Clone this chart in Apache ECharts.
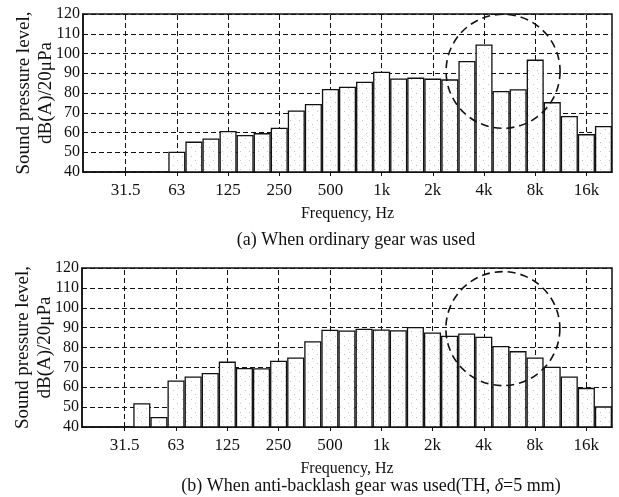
<!DOCTYPE html>
<html>
<head>
<meta charset="utf-8">
<script src="https://cdn.jsdelivr.net/npm/echarts@6/dist/echarts.min.js"></script>
<style>
  html, body { margin: 0; padding: 0; background: #fff; }
  #chart { width: 619px; height: 497px; }
</style>
</head>
<body>
<div id="chart"></div>
<script>
// One-third-octave band centre frequencies (Hz)
const bands = ['20', '25', '31.5', '40', '50', '63', '80', '100', '125', '160', '200', '250',
  '315', '400', '500', '630', '800', '1k', '1.25k', '1.6k', '2k', '2.5k', '3.15k', '4k',
  '5k', '6.3k', '8k', '10k', '12.5k', '16k', '20k'];

// Octave bands that carry a tick, a label and a vertical grid line
const octaveTicks = ['31.5', '63', '125', '250', '500', '1k', '2k', '4k', '8k', '16k'];

// Sound pressure level per band, dB(A) re 20 μPa
const splOrdinary = [null, null, null, null, null, 50.3, 55.4, 57.0, 60.8, 58.7, 59.7, 62.4,
  71.2, 74.4, 82.0, 83.2, 85.7, 90.8, 87.4, 87.8, 87.3, 86.9, 96.2, 104.6,
  81.0, 81.9, 96.9, 75.4, 68.4, 59.2, 63.3];
const splAntiBacklash = [null, null, null, 52.0, 45.0, 63.4, 65.4, 67.2, 72.9, 69.7, 69.6, 73.3,
  75.0, 83.2, 88.9, 88.6, 89.4, 89.1, 88.7, 90.3, 87.6, 85.9, 87.1, 85.4,
  80.8, 78.2, 75.0, 70.3, 65.4, 59.7, 50.4];

// Level axis ticks
const levelTicks = [40, 50, 60, 70, 80, 90, 100, 110, 120];

// Centres of the dashed rings marking the high-frequency region (band, level)
const focusOrdinary = ['5k', 91];
const focusAntiBacklash = ['5k', 89.5];

const serif = '"Liberation Serif", "DejaVu Serif", serif';
const ink = '#111';

// Sparse stipple used to fill the bars
function stipple() {
  const c = document.createElement('canvas');
  c.width = 9; c.height = 9;
  const g = c.getContext('2d');
  g.fillStyle = '#fff';
  g.fillRect(0, 0, 9, 9);
  g.fillStyle = '#c4c4c4';
  g.fillRect(2, 3, 1, 1);
  g.fillRect(6, 7, 1, 1);
  g.fillStyle = '#e2e2e2';
  g.fillRect(7, 1, 1, 1);
  return { image: c, repeat: 'repeat' };
}
const barFill = stipple();

const isOctave = (i, v) => octaveTicks.indexOf(v) !== -1;
const dash = [5, 3];

function freqAxis(gridIndex) {
  return {
    type: 'category',
    gridIndex,
    data: bands,
    boundaryGap: true,
    name: 'Frequency, Hz',
    nameLocation: 'middle',
    nameGap: 34,
    nameMoveOverlap: false,
    nameTextStyle: { fontFamily: serif, fontSize: 16, color: ink },
    axisLine: { show: true, lineStyle: { color: ink, width: 1.5 } },
    axisTick: { show: true, alignWithLabel: true, inside: false, length: 4,
      interval: isOctave, lineStyle: { color: ink, width: 1 } },
    axisLabel: { interval: isOctave, margin: 10, fontFamily: serif, fontSize: 17, color: ink },
    splitLine: { show: false }
  };
}

function levelAxis(gridIndex) {
  return {
    type: 'value',
    gridIndex,
    min: levelTicks[0],
    max: levelTicks[levelTicks.length - 1],
    interval: levelTicks[1] - levelTicks[0],
    name: 'Sound pressure level,\ndB(A)/20μPa',
    nameLocation: 'middle',
    nameRotate: 90,
    nameGap: 26,
    nameMoveOverlap: false,
    nameTextStyle: { fontFamily: serif, fontSize: 19, lineHeight: 22, color: ink },
    axisLine: { show: true, lineStyle: { color: ink, width: 1.5 } },
    axisTick: { show: false },
    axisLabel: { margin: 3, fontFamily: serif, fontSize: 16, color: ink },
    splitLine: { show: true, lineStyle: { color: ink, width: 1, type: dash } }
  };
}

function barSeries(idx, values) {
  return {
    type: 'bar',
    xAxisIndex: idx,
    yAxisIndex: idx,
    data: values,
    barCategoryGap: '0%',
    z: 2,
    silent: true,
    itemStyle: { color: barFill, borderColor: ink, borderWidth: 1.3 },
    markLine: {
      silent: true,
      symbol: 'none',
      z: 1,
      label: { show: false },
      lineStyle: { color: ink, width: 1, type: dash },
      data: octaveTicks.map(v => ({ xAxis: v }))
    }
  };
}

function ringSeries(idx, centre) {
  return {
    type: 'scatter',
    xAxisIndex: idx,
    yAxisIndex: idx,
    data: [centre],
    symbol: 'circle',
    symbolSize: 114,
    symbolOffset: [2, 0],
    z: 6,
    silent: true,
    itemStyle: { color: 'rgba(0,0,0,0)', borderColor: ink, borderWidth: 1.6, borderType: [8, 5], opacity: 1 }
  };
}

const chart = echarts.init(document.getElementById('chart'), null, { renderer: 'canvas' });
chart.setOption({
  animation: false,
  backgroundColor: '#fff',
  grid: [
    { left: 83, right: 7, top: 14, height: 158, show: true, borderColor: ink, borderWidth: 1.5,
      containLabel: false, outerBoundsMode: 'none' },
    { left: 82, right: 7, top: 268, height: 159, show: true, borderColor: ink, borderWidth: 1.5,
      containLabel: false, outerBoundsMode: 'none' }
  ],
  xAxis: [freqAxis(0), freqAxis(1)],
  yAxis: [levelAxis(0), levelAxis(1)],
  series: [
    barSeries(0, splOrdinary),
    barSeries(1, splAntiBacklash),
    ringSeries(0, focusOrdinary),
    ringSeries(1, focusAntiBacklash)
  ],
  graphic: [
    {
      type: 'text', x: 356, y: 240, silent: true,
      style: { text: '(a) When ordinary gear was used', fill: ink, font: '18px ' + serif,
        textAlign: 'center', textVerticalAlign: 'middle' }
    },
    {
      type: 'text', x: 371, y: 486, silent: true,
      style: {
        text: '{n|(b) When anti-backlash gear was used(TH, }{i|δ}{n|=5 mm)}',
        fill: ink, textAlign: 'center', textVerticalAlign: 'middle',
        rich: {
          n: { fontFamily: serif, fontSize: 18, fill: ink },
          i: { fontFamily: serif, fontSize: 18, fontStyle: 'italic', fill: ink }
        }
      }
    }
  ]
});
</script>
</body>
</html>
